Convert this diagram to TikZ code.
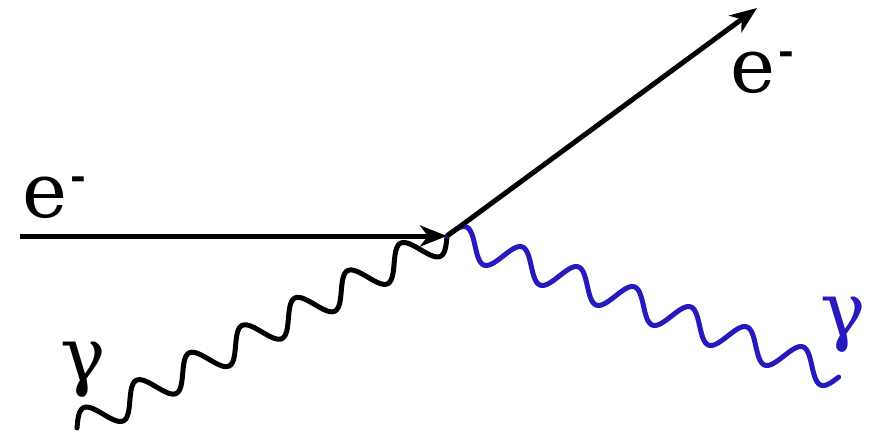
\documentclass[tikz,border=0pt]{standalone}
\usepackage{fontspec}
\setmainfont{DejaVu Serif}
\newfontfamily\labelfont{DejaVu Serif}
\usetikzlibrary{arrows.meta}
\definecolor{photonblue}{RGB}{40,25,190}
\newcommand{\elecsym}{e\kern3pt\raisebox{28pt}{\fontsize{38}{38}\bfseries -}}
\begin{document}
\begin{tikzpicture}[x=1pt,y=-1pt,
  fermion/.style={line width=5pt, -{Stealth[length=27pt,width=21pt,inset=8pt]}},
  photon/.style={line width=5pt, line cap=round, line join=round},
  lbl/.style={inner sep=0pt, anchor=base west, font=\labelfont\fontsize{76}{76}\selectfont}]
\useasboundingbox (0,0) rectangle (876,434);
\coordinate (ein) at (20,236);
\coordinate (v) at (447,236);
\coordinate (eout) at (757,8);
% incoming photon: 7 periods from (77,428) to (447,236)
\draw[photon] plot[samples=320, variable=\t, domain=0:1]
  ({77+370*\t-0.4568*15*sin(2520*\t)}, {428-192*\t-0.8896*15*sin(2520*\t)});
% outgoing photon: 7 periods from (447,236) to (840,376)
\draw[photon, photonblue] plot[samples=320, variable=\t, domain=0:1]
  ({447+393*\t+0.3356*15*sin(2520*\t)}, {236+140*\t-0.942*15*sin(2520*\t)});
\draw[fermion] (ein) -- (v);
\draw[fermion] (v) -- (eout);
\node[lbl] (lein) at (22,217) {\elecsym};
\node[lbl] (leout) at (730,92) {\elecsym};
\node[lbl] (lgin) at (60,381) {γ};
\node[lbl, text=photonblue] (lgout) at (820,336) {γ};
\end{tikzpicture}
\end{document}
